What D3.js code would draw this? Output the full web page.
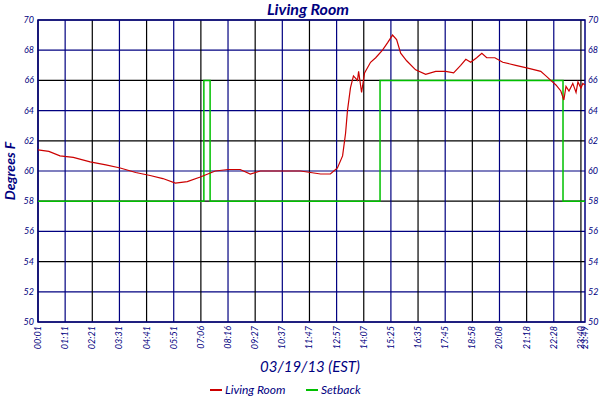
<!DOCTYPE html><html><head><meta charset="utf-8">
<script src="https://cdn.jsdelivr.net/npm/d3@7"></script>
<style>body{margin:0;background:#fff}text{font-family:Lato,"DejaVu Sans",sans-serif;font-style:italic;fill:#000080}</style>
</head><body><svg width="600" height="400"></svg><script>
const tickLabels=["00:01","01:11","02:21","03:31","04:41","05:51","07:06","08:16","09:27","10:37","11:47","12:57","14:07","15:25","16:35","17:45","18:58","20:08","21:18","22:28","23:40","23:49"];
const tickIdx=[0,1,2,3,4,5,6,7,8,9,10,11,12,13,14,15,16,17,18,19,20,20.15];
const yTicks=[50,52,54,56,58,60,62,64,66,68,70];
const roomX=[0,0.4,0.81,1.3,1.92,2.5,3.03,3.6,4.13,4.6,5.06,5.5,5.98,6.53,7.0,7.45,7.82,8.19,9.0,9.67,10.41,10.77,11.03,11.22,11.33,11.4,11.51,11.62,11.77,11.81,11.92,12.03,12.25,12.44,12.69,12.88,13.06,13.21,13.36,13.58,13.91,14.28,14.65,15.02,15.31,15.57,15.76,15.94,16.16,16.35,16.53,16.83,17.12,17.6,18.08,18.52,18.71,18.89,19.08,19.26,19.37,19.45,19.56,19.7,19.82,19.89,20.0,20.07,20.15];
const roomY=[61.4,61.3,61.0,60.9,60.6,60.4,60.2,59.9,59.7,59.5,59.2,59.3,59.6,60.0,60.1,60.1,59.8,60.0,60.0,60.0,59.8,59.8,60.2,61.0,62.5,64.0,65.5,66.3,66.0,66.6,65.2,66.5,67.2,67.5,68.0,68.5,69.0,68.7,67.8,67.3,66.7,66.4,66.6,66.6,66.5,67.0,67.4,67.2,67.5,67.8,67.5,67.5,67.2,67.0,66.8,66.6,66.3,66.0,65.7,65.3,64.7,65.6,65.3,65.8,65.2,65.9,65.5,65.8,65.7];
const setX=[0,6.11,6.11,6.34,6.34,12.6,12.6,19.34,19.34,20.15];
const setY=[58,58,66,66,58,58,66,66,58,58];
const svg=d3.select("svg");
const L=38,R=585,T=20,B=322;
const x=d3.scaleLinear().domain([0,20.15]).range([L,R]);
const y=d3.scaleLinear().domain([50,70]).range([B,T]);
const g=svg.append("g");
yTicks.forEach(v=>g.append("line").attr("x1",L).attr("x2",R).attr("y1",y(v)).attr("y2",y(v)).attr("stroke",(v%4==2)?"#000":"#000080").attr("stroke-width",1.2));
tickIdx.slice(0,21).forEach((v,i)=>g.append("line").attr("x1",x(v)).attr("x2",x(v)).attr("y1",T).attr("y2",B).attr("stroke",i%2?"#000080":"#000").attr("stroke-width",1.2));
g.append("rect").attr("x",L).attr("y",T).attr("width",R-L).attr("height",B-T).attr("fill","none").attr("stroke","#000080").attr("stroke-width",1.5);
const line=d3.line().x(d=>x(d[0])).y(d=>y(d[1]));
svg.append("path").attr("d",line(setX.map((v,i)=>[v,setY[i]]))).attr("fill","none").attr("stroke","#00c000").attr("stroke-width",1.5);
svg.append("path").attr("d",line(roomX.map((v,i)=>[v,roomY[i]]))).attr("fill","none").attr("stroke","#cc0000").attr("stroke-width",1.2);
yTicks.forEach(v=>{
 svg.append("text").attr("x",L-4).attr("y",y(v)+3).attr("text-anchor","end").attr("font-size",9).text(v);
 svg.append("text").attr("x",R+3).attr("y",y(v)+3).attr("font-size",9).text(v);
});
tickIdx.forEach((v,i)=>svg.append("text").attr("transform",`translate(${x(v)+3},${B+4}) rotate(-90)`).attr("text-anchor","end").attr("font-size",9).text(tickLabels[i]));
svg.append("text").attr("x",308).attr("y",15).attr("text-anchor","middle").attr("font-size",16).attr("font-weight","bold").text("Living Room");
svg.append("text").attr("transform","translate(15,171) rotate(-90)").attr("text-anchor","middle").attr("font-size",14).attr("font-weight","bold").text("Degrees F");
svg.append("text").attr("x",310).attr("y",372).attr("text-anchor","middle").attr("font-size",15).text("03/19/13 (EST)");
const lg=[["Living Room","#cc0000",210],["Setback","#00c000",306]];
lg.forEach(([t,c,lx])=>{svg.append("line").attr("x1",lx).attr("x2",lx+12).attr("y1",390).attr("y2",390).attr("stroke",c).attr("stroke-width",2);
 svg.append("text").attr("x",lx+15).attr("y",394).attr("font-size",12).text(t);});
</script></body></html>
